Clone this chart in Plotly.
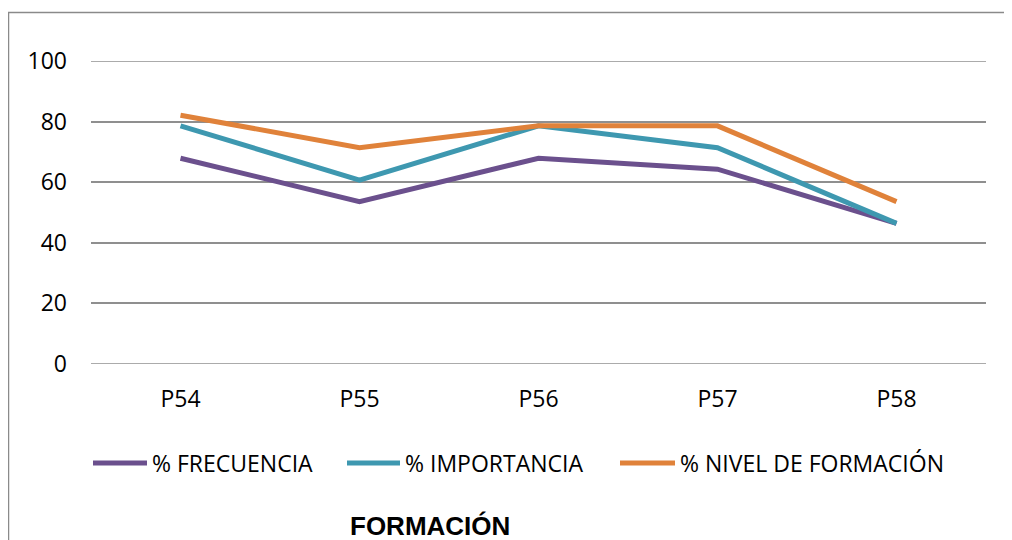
import plotly.graph_objects as go

categories = ["P54", "P55", "P56", "P57", "P58"]
frecuencia = [67.9, 53.6, 67.9, 64.3, 46.4]
importancia = [78.6, 60.7, 78.6, 71.4, 46.4]
nivel_formacion = [82.1, 71.4, 78.6, 78.6, 53.6]
series_names = ["% FRECUENCIA", "% IMPORTANCIA", "% NIVEL DE FORMACIÓN"]
colors = ["#6b508d", "#3e98b0", "#e0823a"]
y_ticks = [0, 20, 40, 60, 80, 100]
title_text = "FORMACIÓN"

# page has an 8px body margin; work in figure pixel coordinates
OFF = 8
W, H = 1004, 532
ML, MR, MT, MB = 83, 26, 53, 176
PW, PH = W - ML - MR, H - MT - MB

def px_x(x):
    return (x - OFF - ML) / PW

def px_y(y):
    return 1 - (y - OFF - MT) / PH

fig = go.Figure()
for name, vals, col in zip(series_names, [frecuencia, importancia, nivel_formacion], colors):
    fig.add_trace(go.Scatter(x=categories, y=vals, name=name, mode="lines",
                             line=dict(color=col, width=5), showlegend=False))

shapes = []
annotations = []
# gridlines at range edges
for yv in (y_ticks[0], y_ticks[-1]):
    shapes.append(dict(type="line", xref="paper", yref="y", x0=0, x1=1, y0=yv, y1=yv,
                       line=dict(color="#8f8f8f", width=1.5), layer="below"))
# custom legend
leg_line_x = [(93, 147), (347, 400), (620, 675)]
leg_text_x = [150, 403, 678]
leg_y = 463
for (x0, x1), tx, name, col in zip(leg_line_x, leg_text_x, series_names, colors):
    shapes.append(dict(type="line", xref="paper", yref="paper",
                       x0=px_x(x0), x1=px_x(x1), y0=px_y(leg_y), y1=px_y(leg_y),
                       line=dict(color=col, width=5)))
    annotations.append(dict(text=name, xref="paper", yref="paper", x=px_x(tx), y=px_y(leg_y),
                            xanchor="left", yanchor="middle", showarrow=False,
                            font=dict(family="Open Sans", size=23, color="#000000")))
# border (left and top visible)
shapes.append(dict(type="line", xref="paper", yref="paper", x0=px_x(8.5), x1=px_x(8.5),
                   y0=px_y(12), y1=px_y(545), line=dict(color="#8a8a8a", width=1.5)))
shapes.append(dict(type="line", xref="paper", yref="paper", x0=px_x(8), x1=px_x(1012),
                   y0=px_y(12.5), y1=px_y(12.5), line=dict(color="#8a8a8a", width=1.5)))

annotations.append(dict(text="<b>" + title_text + "</b>", xref="paper", yref="paper",
                        x=px_x(430), y=px_y(526), xanchor="center", yanchor="middle",
                        showarrow=False, borderpad=0,
                        font=dict(family="Liberation Sans, Arial", size=26, color="#000000")))

fig.update_layout(
    width=W, height=H,
    margin=dict(l=ML, r=MR, t=MT, b=MB, pad=0),
    paper_bgcolor="white", plot_bgcolor="white",
    shapes=shapes, annotations=annotations,
    font=dict(family="Open Sans", size=23, color="#000000"),
)
fig.update_xaxes(range=[-0.5, 4.5], showgrid=False, zeroline=False, showline=False,
                 ticks="", ticklabelstandoff=19, tickfont=dict(family="Open Sans", size=23))
fig.update_yaxes(range=[0, 100], tickvals=y_ticks, showgrid=True, gridcolor="#8f8f8f",
                 gridwidth=1.5, zeroline=False, showline=False, ticks="",
                 ticklabelstandoff=23, tickfont=dict(family="Open Sans", size=23))

fig.write_html("out.html")
